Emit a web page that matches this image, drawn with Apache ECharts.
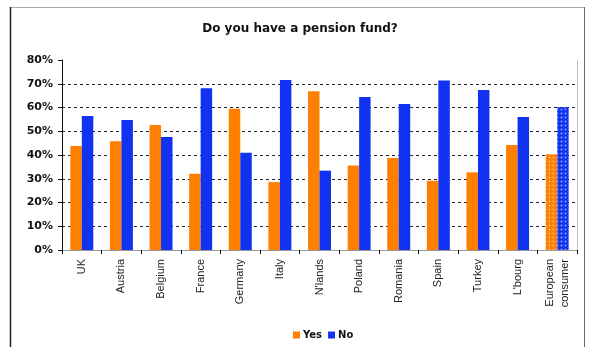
<!DOCTYPE html>
<html>
<head>
<meta charset="utf-8">
<script src="https://cdn.jsdelivr.net/npm/echarts@6/dist/echarts.min.js"></script>
<style>html,body{margin:0;padding:0;background:#fff;}#c{width:600px;height:360px;}</style>
</head>
<body>
<div id="c"></div>
<script>
const categories = ["UK","Austria","Belgium","France","Germany","Italy","N'lands","Poland","Romania","Spain","Turkey","L'bourg","European\nconsumer"];
const yesValues = [0.438,0.458,0.526,0.321,0.595,0.286,0.668,0.356,0.387,0.292,0.327,0.442,0.403];
const noValues  = [0.564,0.547,0.476,0.681,0.410,0.716,0.334,0.644,0.615,0.714,0.674,0.560,0.601];
const yTicks = [0,0.1,0.2,0.3,0.4,0.5,0.6,0.7,0.8];

const decal = {symbol:'circle', symbolSize:0.6, color:'rgba(255,255,255,0.55)', dashArrayX:[3,1], dashArrayY:[3,1]};
function mk(arr){
  return arr.map((v,i)=> i===arr.length-1 ? {value:v, itemStyle:{decal:decal}} : v);
}
const gridColors = yTicks.map((t,i)=> i===yTicks.length-1 ? 'rgba(0,0,0,0)' : '#222');
const chart = echarts.init(document.getElementById('c'), null, {renderer:'canvas'});
chart.setOption({
  animation:false,
  backgroundColor:'#fff',
  title:{text:'Do you have a pension fund?', left:'center', top:18,
    textStyle:{fontFamily:'DejaVu Sans', fontWeight:'bold', fontSize:12, color:'#111'}},
  legend:{data:['Yes','No'], left:288, top:325, itemWidth:7, itemHeight:7, itemGap:6, icon:'rect',
    textStyle:{fontFamily:'DejaVu Sans', fontWeight:'bold', fontSize:10, color:'#111', padding:[0,0,0,-2]}},
  grid:{left:62, right:23, top:60, bottom:110},
  xAxis:[{type:'category', data:categories,
    axisLine:{lineStyle:{color:'#111', width:1}},
    axisTick:{show:true, length:4, lineStyle:{color:'#111'}},
    axisLabel:{rotate:90, margin:9, fontFamily:'Liberation Sans', fontSize:11, color:'#222', lineHeight:15, interval:0}},
   {type:'category', position:'top', data:categories, axisLine:{lineStyle:{color:'#999'}}, axisTick:{show:false}, axisLabel:{show:false}}],
  yAxis:[{type:'value', min:0, max:0.8, interval:0.1,
    axisLine:{show:true, lineStyle:{color:'#111'}},
    axisTick:{show:true, length:4, lineStyle:{color:'#111'}},
    axisLabel:{margin:9, fontFamily:'DejaVu Sans', fontWeight:'bold', fontSize:11, color:'#111',
      formatter:v=>Math.round(v*100)+'%'},
    splitLine:{show:true, lineStyle:{color:gridColors, type:[3,3], width:1}}},
   {type:'value', position:'right', min:0, max:0.8, axisLine:{show:true, lineStyle:{color:'#bbb'}}, axisTick:{show:false}, axisLabel:{show:false}, splitLine:{show:false}}],
  series:[
    {name:'Yes', type:'bar', data:mk(yesValues), barGap:'0%', barCategoryGap:'42%', itemStyle:{color:'#FF7F00'}},
    {name:'No', type:'bar', data:mk(noValues), itemStyle:{color:'#1232F2'}}
  ],
  graphic:[
    {type:'line', shape:{x1:10,y1:7.5,x2:584,y2:7.5}, style:{stroke:'#aaa', lineWidth:1}},
    {type:'line', shape:{x1:10.5,y1:7,x2:10.5,y2:347}, style:{stroke:'#222', lineWidth:1.5}},
    {type:'line', shape:{x1:584.5,y1:7,x2:584.5,y2:347}, style:{stroke:'#666', lineWidth:1}}
  ]
});
</script>
</body>
</html>
